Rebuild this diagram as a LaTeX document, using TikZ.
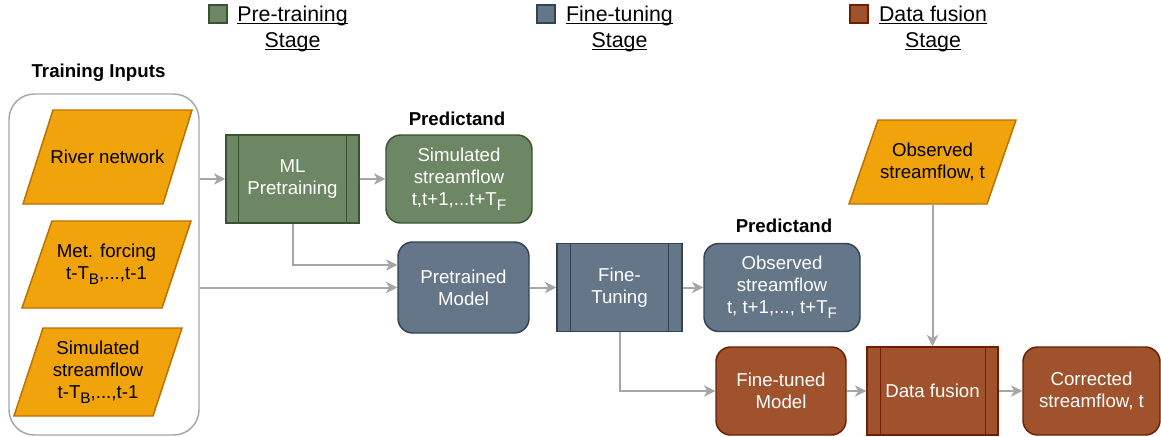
\documentclass[tikz,border=0pt]{standalone}
\usepackage{fontspec}
\setmainfont{Liberation Sans}
\usetikzlibrary{arrows.meta,calc}
\definecolor{orf}{HTML}{F0A30A}\definecolor{ord}{HTML}{BD7000}
\definecolor{grf}{HTML}{6D8764}\definecolor{grd}{HTML}{3A5431}
\definecolor{blf}{HTML}{647687}\definecolor{bld}{HTML}{314354}
\definecolor{brf}{HTML}{A0522D}\definecolor{brd}{HTML}{6D1F00}
\definecolor{arrc}{HTML}{A6A6A6}
\newcommand{\sbs}[1]{\raisebox{-0.5ex}{\fontsize{11.5}{11.5}\selectfont #1}}
\newcommand{\uln}[1]{\setbox0\hbox{#1}\rlap{\rule[-1.7pt]{\wd0}{0.85pt}}\box0}
\begin{document}
\begin{tikzpicture}[x=0.75pt,y=-0.75pt,
  sz/.style 2 args={minimum width=#1*0.75pt, minimum height=#2*0.75pt},
  txt/.style={font=\fontsize{14}{16.5}\selectfont, align=center, inner sep=0pt},
  lbl/.style={font=\fontsize{14}{16.5}\selectfont\bfseries, inner sep=0pt},
  legtxt/.style={font=\fontsize{16}{19.5}\selectfont, align=center, inner sep=0pt},
  rbox/.style={txt, rectangle, rounded corners=11pt, draw, line width=1.1pt, text=white},
  pbox/.style={txt, rectangle, draw, line width=1.1pt, text=white},
  para/.style={fill=orf, draw=ord, line width=1.1pt},
  arr/.style={draw=arrc, line width=1.5pt, -{Stealth[length=8.5pt,width=8.5pt,inset=2.5pt]}},
  sq/.style={rectangle, draw, line width=0.9pt, sz={18}{18}, inner sep=0pt}
]
\useasboundingbox (0,0) rectangle (1161,436);

% legend
\node[sq, draw=grd, fill=grf] (sq1) at (218,14) {};
\node[legtxt, anchor=north] (lg1) at (292.5,6) {\uln{Pre-training}\\\uln{Stage}};
\node[sq, draw=bld, fill=blf] (sq2) at (546,14) {};
\node[legtxt, anchor=north] (lg2) at (619.5,6) {\uln{Fine-tuning}\\\uln{Stage}};
\node[sq, draw=brd, fill=brf] (sq3) at (859,14) {};
\node[legtxt, anchor=north] (lg3) at (933,6) {\uln{Data fusion}\\\uln{Stage}};

% training inputs container
\node[rectangle, rounded corners=19pt, draw=arrc, line width=1.1pt, fill=white, sz={190}{341}] (inputs) at (104,264.5) {};
\node[lbl, anchor=base] (tilbl) at (98.5,77) {Training Inputs};

\draw[para] (23,204)--(53,110)--(192,110)--(163,204)--cycle;
\node[txt] (river) at (107.5,157) {River network};
\draw[para] (22,308)--(52,221)--(191,221)--(162,308)--cycle;
\node[txt] (met) at (106.5,264.5) {Met. forcing\\t-T\sbs{B},...,t-1};
\draw[para] (14,416)--(43,328)--(182,328)--(153,416)--cycle;
\node[txt] (simin) at (98,372) {Simulated\\streamflow\\t-T\sbs{B},...,t-1};

% pre-training
\node[pbox, fill=grf, draw=grd, sz={133}{88}] (ml) at (292.5,179) {ML\\Pretraining};
\draw[grd, line width=1.1pt] ($(ml.north west)+(13,0)$) -- ($(ml.south west)+(13,0)$);
\draw[grd, line width=1.1pt] ($(ml.north east)+(-13,0)$) -- ($(ml.south east)+(-13,0)$);
\node[rbox, fill=grf, draw=grd, sz={146}{88}] (simp) at (459,179) {Simulated\\streamflow\\t,t+1,...t+T\sbs{F}};
\node[lbl, anchor=base] (pl1) at ($(simp.north)+(-2,-9)$) {Predictand};

% fine-tuning
\node[rbox, fill=blf, draw=bld, sz={131}{91}] (pre) at (463.5,287.5) {Pretrained\\Model};
\node[pbox, fill=blf, draw=bld, sz={125}{88}] (ft) at (619.5,287.5) {Fine-\\Tuning};
\draw[bld, line width=1.1pt] ($(ft.north west)+(14,0)$) -- ($(ft.south west)+(14,0)$);
\draw[bld, line width=1.1pt] ($(ft.north east)+(-14,0)$) -- ($(ft.south east)+(-14,0)$);
\node[rbox, fill=blf, draw=bld, sz={156}{88}] (obsp) at (782,287.5) {Observed\\streamflow\\t, t+1,..., t+T\sbs{F}};
\node[lbl, anchor=base] (pl2) at ($(obsp.north)+(2,-10)$) {Predictand};

% data fusion
\draw[para] (849,204)--(878,120)--(1016,120)--(987,204)--cycle;
\node[txt, sz={130}{84}] (obst) at (932.5,162) {Observed\\streamflow, t};
\node[rbox, fill=brf, draw=brd, sz={130}{88}] (fin) at (781,391) {Fine-tuned\\Model};
\node[pbox, fill=brf, draw=brd, sz={131}{88}] (df) at (932.5,391) {Data fusion};
\draw[brd, line width=1.1pt] ($(df.north west)+(14,0)$) -- ($(df.south west)+(14,0)$);
\draw[brd, line width=1.1pt] ($(df.north east)+(-13,0)$) -- ($(df.south east)+(-13,0)$);
\node[rbox, fill=brf, draw=brd, sz={137}{88}] (corr) at (1091.5,391) {Corrected\\streamflow, t};

% connectors
\draw[arr] (inputs.east |- ml.west) -- (ml.west);
\draw[arr] (ml.east) -- (simp.west);
\draw[arr] (ml.south) |- ($(pre.west)+(0,-22.5)$);
\draw[arr] (inputs.east |- pre.west) -- (pre.west);
\draw[arr] (pre.east) -- (ft.west);
\draw[arr] (ft.east) -- (obsp.west);
\draw[arr] (ft.south) |- (fin.west);
\draw[arr] (fin.east) -- (df.west);
\draw[arr] (df.east) -- (corr.west);
\draw[arr] (obst.south) -- (df.north);
\end{tikzpicture}
\end{document}
